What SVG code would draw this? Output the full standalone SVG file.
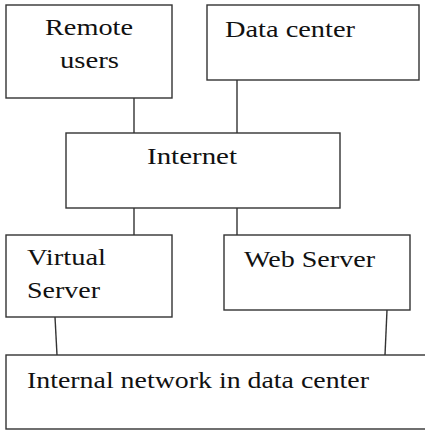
<svg xmlns="http://www.w3.org/2000/svg" width="425" height="432" viewBox="0 0 425 432">
<style>
.box{fill:#fff;stroke:#333;stroke-width:1.4}
.ln{stroke:#333;stroke-width:1.4;fill:none}
text{font-family:"Liberation Serif","Times New Roman",serif;font-size:24px;fill:#111}
</style>
<rect width="425" height="432" fill="#fff"/>
<g id="connectors">
<line class="ln" x1="134" y1="98" x2="134" y2="133"/>
<line class="ln" x1="237" y1="80" x2="237" y2="133"/>
<line class="ln" x1="134" y1="208" x2="134" y2="235"/>
<line class="ln" x1="237" y1="208" x2="237" y2="235"/>
<line class="ln" x1="55" y1="317" x2="57" y2="355"/>
<line class="ln" x1="387" y1="310" x2="385" y2="355"/>
</g>
<g id="remote">
<rect class="box" x="6" y="5" width="166" height="93"/>
<text x="45" y="35" textLength="88" lengthAdjust="spacingAndGlyphs">Remote</text>
<text x="60" y="68" textLength="59" lengthAdjust="spacingAndGlyphs">users</text>
</g>
<g id="datacenter">
<rect class="box" x="207" y="5" width="212" height="75"/>
<text x="225" y="37" textLength="130" lengthAdjust="spacingAndGlyphs">Data center</text>
</g>
<g id="internet">
<rect class="box" x="66" y="133" width="274" height="75"/>
<text x="147" y="164" textLength="90" lengthAdjust="spacingAndGlyphs">Internet</text>
</g>
<g id="virtual">
<rect class="box" x="6" y="235" width="166" height="82"/>
<text x="27" y="265" textLength="79" lengthAdjust="spacingAndGlyphs">Virtual</text>
<text x="27" y="298" textLength="73" lengthAdjust="spacingAndGlyphs">Server</text>
</g>
<g id="webserver">
<rect class="box" x="224" y="235" width="186" height="75"/>
<text x="244" y="267" textLength="131" lengthAdjust="spacingAndGlyphs">Web Server</text>
</g>
<g id="internal">
<rect class="box" x="6" y="355" width="425" height="74"/>
<text x="27" y="388" textLength="342" lengthAdjust="spacingAndGlyphs">Internal network in data center</text>
</g>
</svg>
